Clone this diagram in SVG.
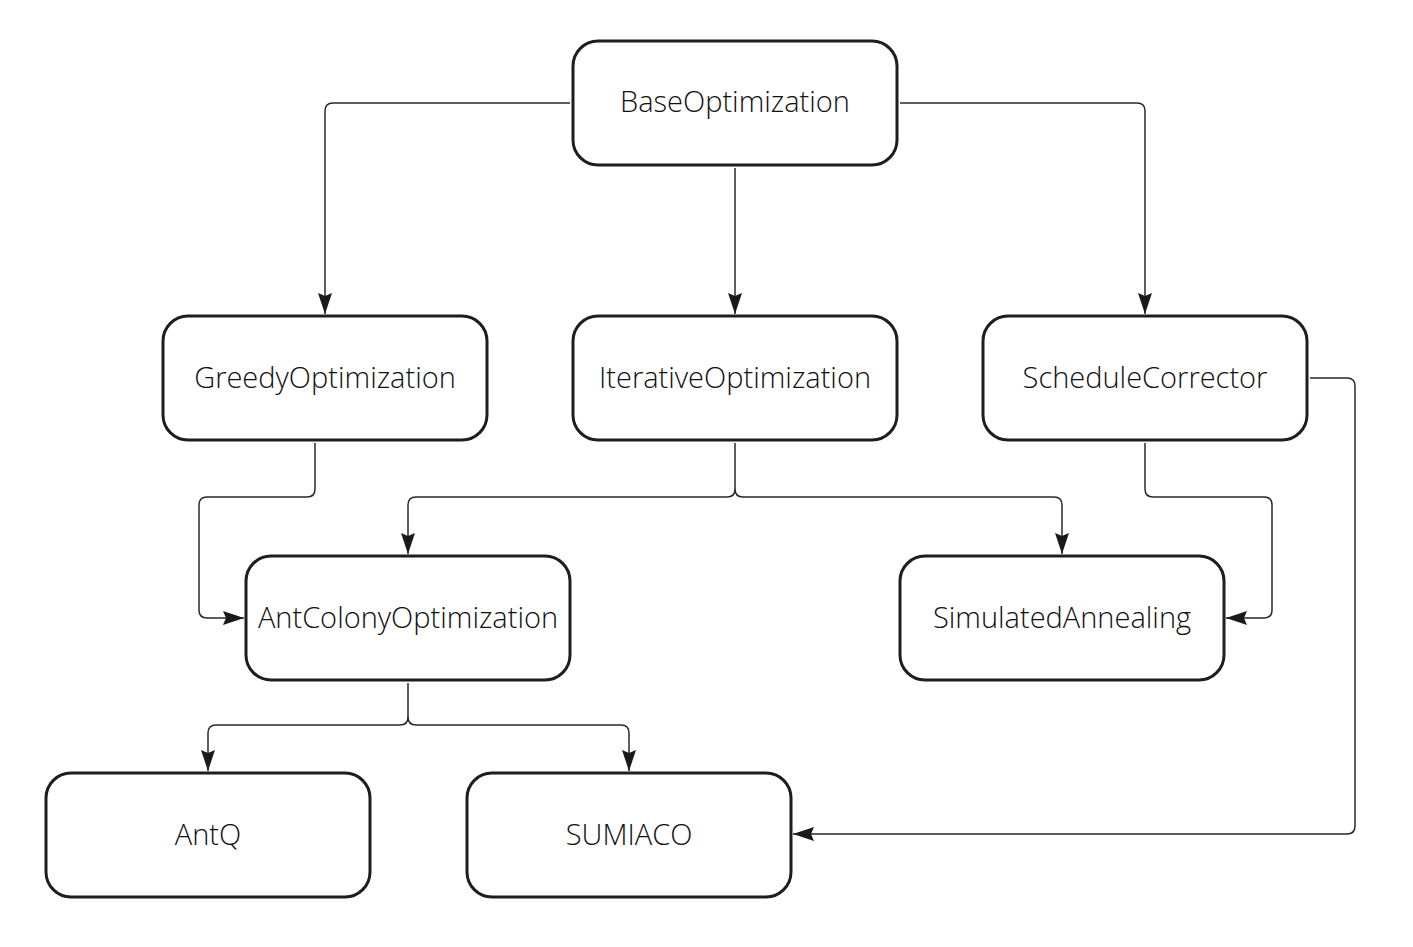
<svg xmlns="http://www.w3.org/2000/svg" width="1413" height="947" viewBox="0 0 1413 947">
<style>
.box{fill:#fff;stroke:#1e1e1e;stroke-width:3}
.lbl{font-family:"Open Sans","Noto Sans",sans-serif;font-size:29px;font-weight:300;fill:#111;text-anchor:middle}
.c{fill:none;stroke:#2a2a2a;stroke-width:1.5}
</style>
<defs>
<marker id="ah" markerWidth="22" markerHeight="16" refX="21" refY="8" orient="auto" markerUnits="userSpaceOnUse">
<path d="M0,1 L21,8 L0,15 L3,8 Z" fill="#1a1a1a"/>
</marker>
</defs>
<rect width="1413" height="947" fill="#fff"/>
<g id="connectors">
<path class="c" marker-end="url(#ah)" d="M570,103 H333 Q325,103 325,111 V314"/>
<path class="c" marker-end="url(#ah)" d="M735,168 V314"/>
<path class="c" marker-end="url(#ah)" d="M900,103 H1137 Q1145,103 1145,111 V314"/>
<path class="c" marker-end="url(#ah)" d="M315,443 V489 Q315,497 307,497 H207 Q199,497 199,505 V610 Q199,618 207,618 H244"/>
<path class="c" marker-end="url(#ah)" d="M735,443 V489 Q735,497 727,497 H416 Q408,497 408,505 V554"/>
<path class="c" marker-end="url(#ah)" d="M735,489 Q735,497 743,497 H1054 Q1062,497 1062,505 V554"/>
<path class="c" marker-end="url(#ah)" d="M1145,443 V489 Q1145,497 1153,497 H1264 Q1272,497 1272,505 V610 Q1272,618 1264,618 H1226"/>
<path class="c" marker-end="url(#ah)" d="M1310,378 H1347 Q1355,378 1355,386 V826 Q1355,834 1347,834 H793"/>
<path class="c" marker-end="url(#ah)" d="M408,683 V717 Q408,725 400,725 H216 Q208,725 208,733 V771"/>
<path class="c" marker-end="url(#ah)" d="M408,717 Q408,725 416,725 H621 Q629,725 629,733 V771"/>
</g>
<g id="BaseOptimization"><rect class="box" x="573" y="41" width="324" height="124" rx="25"/><text class="lbl" x="735" y="112">BaseOptimization</text></g>
<g id="GreedyOptimization"><rect class="box" x="163" y="316" width="324" height="124" rx="25"/><text class="lbl" x="325" y="388">GreedyOptimization</text></g>
<g id="IterativeOptimization"><rect class="box" x="573" y="316" width="324" height="124" rx="25"/><text class="lbl" x="735" y="388">IterativeOptimization</text></g>
<g id="ScheduleCorrector"><rect class="box" x="983" y="316" width="324" height="124" rx="25"/><text class="lbl" x="1145" y="388">ScheduleCorrector</text></g>
<g id="AntColonyOptimization"><rect class="box" x="246" y="556" width="324" height="124" rx="25"/><text class="lbl" x="408" y="628">AntColonyOptimization</text></g>
<g id="SimulatedAnnealing"><rect class="box" x="900" y="556" width="324" height="124" rx="25"/><text class="lbl" x="1062" y="628">SimulatedAnnealing</text></g>
<g id="AntQ"><rect class="box" x="46" y="773" width="324" height="124" rx="25"/><text class="lbl" x="208" y="845">AntQ</text></g>
<g id="SUMIACO"><rect class="box" x="467" y="773" width="324" height="124" rx="25"/><text class="lbl" x="629" y="845">SUMIACO</text></g>
</svg>
